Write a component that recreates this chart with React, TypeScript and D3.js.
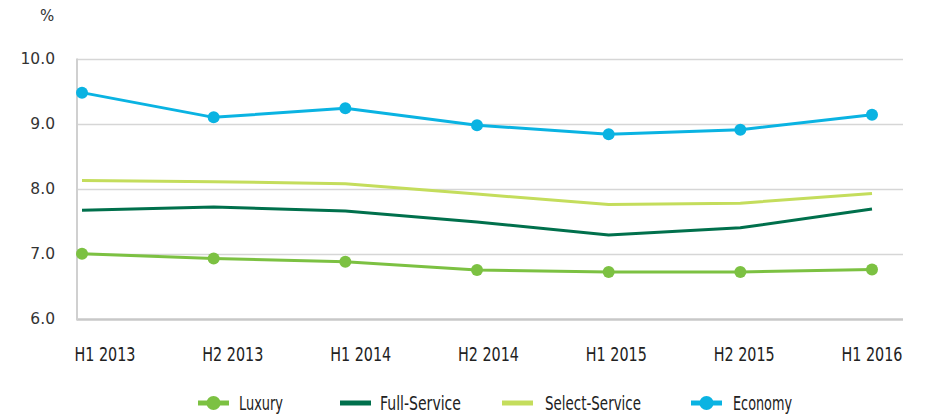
import React from "react";
import * as d3 from "d3";

const periods = ["H1 2013", "H2 2013", "H1 2014", "H2 2014", "H1 2015", "H2 2015", "H1 2016"];
const luxury = [7.01, 6.94, 6.89, 6.76, 6.73, 6.73, 6.77];
const fullService = [7.68, 7.73, 7.67, 7.5, 7.3, 7.41, 7.7];
const selectService = [8.14, 8.12, 8.09, 7.93, 7.77, 7.79, 7.94];
const economy = [9.49, 9.11, 9.25, 8.99, 8.85, 8.92, 9.15];
const yTicks = [6, 7, 8, 9, 10];
const seriesNames = ["Luxury", "Full-Service", "Select-Service", "Economy"];
const unitLabel = "%";

const W = 926;
const H = 417;
const plotLeft = 77;
const plotRight = 903;

const colors: Record<string, string> = {
  Luxury: "#7cc142",
  "Full-Service": "#00704c",
  "Select-Service": "#c4dd5c",
  Economy: "#0ab3e2",
};
const markers: Record<string, boolean> = {
  Luxury: true,
  "Full-Service": false,
  "Select-Service": false,
  Economy: true,
};
const seriesValues: Record<string, number[]> = {
  Luxury: luxury,
  "Full-Service": fullService,
  "Select-Service": selectService,
  Economy: economy,
};

const condensed = "'DejaVu Sans Condensed', 'Liberation Sans Narrow', 'DejaVu Sans', sans-serif";
const labelFont = "'DejaVu Sans', sans-serif";

export default function App() {
  const y = d3.scaleLinear().domain([6, 10]).range([319.5, 59.5]);
  const xData = d3.scalePoint<string>().domain(periods).range([82, 872]);
  const xLabel = d3.scalePoint<string>().domain(periods).range([105, 872]);

  const line = d3
    .line<number>()
    .x((_, i) => xData(periods[i]) as number)
    .y((d) => y(d));

  const drawOrder = ["Select-Service", "Full-Service", "Luxury", "Economy"];

  const legendSymX = [198, 340, 502, 691];
  const legendTextX = [239, 380, 545, 733];
  const legendTextLen = [44, 81, 96, 59];
  const legendY = 403;

  return (
    <svg
      width={W}
      height={H}
      style={{ position: "absolute", left: 0, top: 0, background: "#fff" }}
    >
      {/* gridlines */}
      {yTicks.map((t) => (
        <line
          key={"g" + t}
          x1={plotLeft}
          x2={plotRight}
          y1={y(t)}
          y2={y(t)}
          stroke={t === 6 ? "#c8c8c8" : "#d6d6d6"}
          strokeWidth={t === 6 ? 2.5 : 1.5}
        />
      ))}
      <line x1={plotLeft} x2={plotLeft} y1={y(10) - 1} y2={y(6) + 1} stroke="#d0d0d0" strokeWidth={2} />

      {/* y labels */}
      {yTicks.map((t) => (
        <text
          key={"yl" + t}
          x={55}
          y={y(t) + 4}
          textAnchor="end"
          fontFamily={labelFont}
          fontSize={15.5}
          fill="#333"
        >
          {t.toFixed(1)}
        </text>
      ))}
      <text x={40} y={21} fontFamily={labelFont} fontSize={15} fill="#333">
        {unitLabel}
      </text>

      {/* x labels */}
      {periods.map((p) => (
        <text
          key={"xl" + p}
          x={xLabel(p)}
          y={361}
          textAnchor="middle"
          fontFamily={condensed}
          fontSize={19}
          fill="#222"
          textLength={61}
          lengthAdjust="spacingAndGlyphs"
        >
          {p}
        </text>
      ))}

      {/* series */}
      {drawOrder.map((name) => (
        <g key={name}>
          <path
            d={line(seriesValues[name]) as string}
            fill="none"
            stroke={colors[name]}
            strokeWidth={3}
            strokeLinejoin="round"
          />
          {markers[name] &&
            seriesValues[name].map((v, i) => (
              <circle key={i} cx={xData(periods[i])} cy={y(v)} r={6} fill={colors[name]} />
            ))}
        </g>
      ))}

      {/* legend */}
      {seriesNames.map((name, i) => (
        <g key={"lg" + name}>
          <line
            x1={legendSymX[i]}
            x2={legendSymX[i] + 31}
            y1={legendY}
            y2={legendY}
            stroke={colors[name]}
            strokeWidth={5}
          />
          {markers[name] && (
            <circle cx={legendSymX[i] + 15.5} cy={legendY} r={7} fill={colors[name]} />
          )}
          <text
            x={legendTextX[i]}
            y={legendY + 7}
            fontFamily={condensed}
            fontSize={19}
            fill="#222"
            textLength={legendTextLen[i]}
            lengthAdjust="spacingAndGlyphs"
          >
            {name}
          </text>
        </g>
      ))}
    </svg>
  );
}
